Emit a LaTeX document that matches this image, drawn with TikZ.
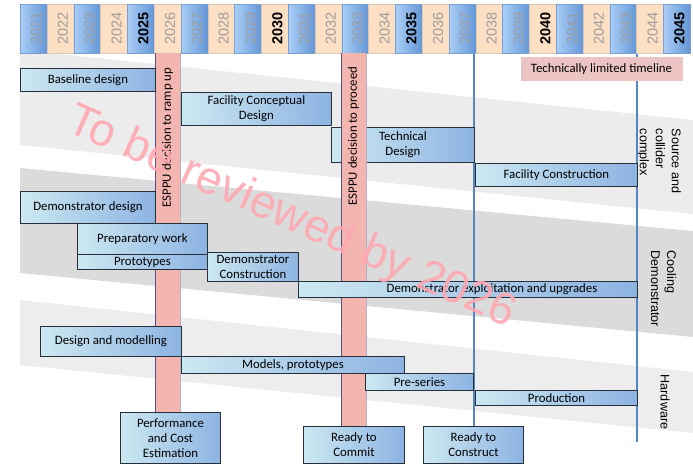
\documentclass[tikz,border=0pt]{standalone}
\usepackage{fontspec}
\setmainfont{Carlito}
\newfontfamily\helv{Liberation Sans}
\definecolor{tL}{RGB}{204,232,241}
\definecolor{tR}{RGB}{141,179,226}
\definecolor{boxline}{RGB}{38,48,60}
\definecolor{ybL}{RGB}{170,206,246}
\definecolor{ybR}{RGB}{100,150,214}
\definecolor{ybline}{RGB}{120,160,210}
\definecolor{peach}{RGB}{253,223,196}
\definecolor{peachline}{RGB}{215,200,185}
\definecolor{yrgray}{RGB}{158,158,158}
\definecolor{bandA}{RGB}{236,236,236}
\definecolor{bandB}{RGB}{219,219,219}
\definecolor{bandC}{RGB}{237,237,237}
\definecolor{esppu}{RGB}{243,181,175}
\definecolor{esppuedge}{RGB}{88,78,128}
\definecolor{esppuright}{RGB}{185,175,195}
\definecolor{limfill}{RGB}{236,196,196}
\definecolor{msblue}{RGB}{84,134,196}
\definecolor{wmark}{RGB}{255,168,178}

% a task bar given by its corners: name, x1, y1, x2, y2, text
\newcommand\taskbox[6]{\node[task, anchor=north west, minimum width={#4-#2}, minimum height={#5-#3}] (#1) at (#2,#3) {#6};}

\begin{document}
\begin{tikzpicture}[x=1pt,y=-1pt,
  task/.style={draw=boxline, line width=0.9pt, left color=tL, right color=tR, inner sep=0pt, align=center, font=\fontsize{12.8}{15}\selectfont},
  yrbox/.style={inner sep=0pt, minimum width=26.8, minimum height=49, line width=0.5pt},
  yrtext/.style={font=\helv\fontsize{14.5}{16}\selectfont, rotate=90, inner sep=0pt},
  side/.style={font=\helv\fontsize{12.6}{16}\selectfont, rotate=-90, align=left, inner sep=0pt},
  decision/.style={fill=esppu, inner sep=0pt, minimum width=25},
  bandtext/.style={font=\fontsize{12.8}{15}\selectfont, rotate=90, inner sep=0pt},
  milestone/.style={draw=msblue, line width=1.6pt},
]
\useasboundingbox (0,0) rectangle (693,464);

% sloped background bands of the three work areas
\fill[bandA] (20,50) -- (693,120) -- (693,214) -- (20,145) -- cycle;
\fill[bandB] (20,168) -- (693,231) -- (693,337) -- (20,273) -- cycle;
\fill[bandC] (20,300) -- (693,372) -- (693,433) -- (20,365) -- cycle;

% year scale
\foreach \i in {0,...,24}{
  \pgfmathtruncatemacro{\yr}{2021+\i}
  \pgfmathsetmacro{\xl}{20+26.8*\i}
  \ifodd\i
    \node[yrbox, anchor=north west, fill=peach, draw=peachline] (yr\yr) at (\xl,4) {};
  \else
    \node[yrbox, anchor=north west, left color=ybL, right color=ybR, draw=ybline] (yr\yr) at (\xl,4) {};
  \fi
  \pgfmathtruncatemacro{\five}{mod(\yr,5)}
  \ifnum\five=0
    \node[yrtext, text=black, font=\helv\bfseries\fontsize{14.5}{16}\selectfont] (yt\yr) at ([xshift=2.5pt]yr\yr.center) {\yr};
  \else
    \node[yrtext, text=yrgray] (yt\yr) at ([xshift=2.5pt]yr\yr.center) {\yr};
  \fi
}

% side labels
\node[side] (lsrc) at (659,161) {Source and\\collider\\complex};
\node[side] (lcool) at (663.5,289) {Cooling\\Demonstrator};
\node[side] (lhw) at (665,402) {Hardware};

% milestone lines
\taskbox{rcon}{423}{426}{523}{463}{Ready to\\Construct}
\coordinate (conend) at (474,426);
\coordinate (tlend) at (637,442);
\draw[milestone] (conend) -- (conend |- yr2038.south);
\draw[milestone] (tlend) -- (tlend |- yr2044.south);

% bar lying under the second decision
\taskbox{tech}{331}{127}{474}{162}{Technical\\Design}

% ESPPU decisions
\node[decision, anchor=north west, minimum height=359] (ramp) at (155,53) {};
\draw[esppuedge, line width=1pt] (ramp.north west) -- (ramp.south west);
\draw[esppuright, line width=0.5pt] (ramp.north east) -- (ramp.south east);
\node[bandtext] (ramptxt) at (167.5,137.5) {ESPPU decision to ramp up};
\node[decision, anchor=north west, minimum height=373] (proceed) at (341,53) {};
\draw[esppuedge, line width=1pt] (proceed.north west) -- (proceed.south west);
\draw[esppuright, line width=0.5pt] (proceed.north east) -- (proceed.south east);
\node[bandtext] (proceedtxt) at (353.5,136) {ESPPU decision to proceed};

% technical limit
\node[fill=limfill, inner sep=0pt, minimum width=162, minimum height=24, font=\fontsize{12.8}{15}\selectfont] (limit) at (601.5,69) {Technically limited timeline};

% source and collider complex
\taskbox{base}{20}{68}{155}{91}{Baseline design}
\taskbox{fcd}{181}{92}{331}{125}{Facility Conceptual\\Design}
\taskbox{fcon}{475}{163}{637}{186}{Facility Construction}

% cooling demonstrator
\taskbox{ddes}{20}{191}{155}{223}{Demonstrator design}
\taskbox{prep}{77}{223}{207}{254}{Preparatory work}
\taskbox{proto}{77}{254}{207}{269}{Prototypes}
\taskbox{dcon}{207}{252}{298}{281}{Demonstrator\\Construction}
\taskbox{dexp}{298}{281}{637}{297}{}
\node[font=\fontsize{12.8}{15}\selectfont, inner sep=0pt] (dexptxt) at (492,289) {Demonstrator exploitation and upgrades};

% hardware
\taskbox{dmod}{40}{326}{181}{356}{Design and modelling}
\taskbox{mproto}{181}{356}{404}{373}{Models, prototypes}
\taskbox{pres}{365}{373}{473}{390}{Pre-series}
\taskbox{prod}{475}{390}{637}{405}{Production}

% milestones
\taskbox{perf}{120}{412}{220}{463}{Performance\\and Cost\\Estimation}
\taskbox{rcom}{303}{426}{404}{463}{Ready to\\Commit}

% review stamp
\node[font=\helv\fontsize{46}{50}\selectfont, text=wmark, rotate=-24, inner sep=0pt, opacity=0.9] (wm) at (291,218) {To be reviewed by 2026};
\end{tikzpicture}
\end{document}
